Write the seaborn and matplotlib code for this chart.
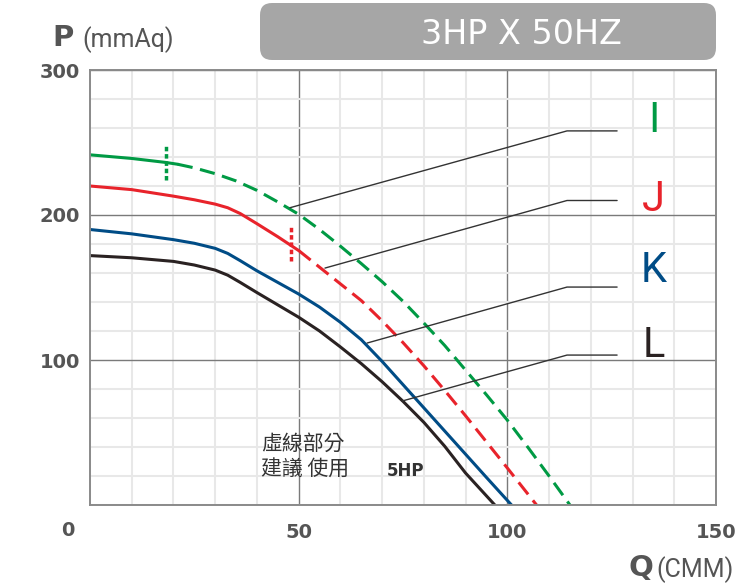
import matplotlib
matplotlib.use('Agg')
import matplotlib.pyplot as plt
import seaborn as sns
from matplotlib.patches import FancyBboxPatch
from matplotlib.transforms import IdentityTransform
from matplotlib.ticker import MultipleLocator

# Curve data: Q (CMM) vs P (mmAq)
# I (green) - solid part, then dashed part (5HP suggested)
i_solid_q = [0, 10, 18, 21]
i_solid_p = [241.5, 239, 236.3, 235]
i_dash_q = [21, 25, 30, 35, 40, 45, 50, 55, 60, 65, 70, 75, 80, 85, 90, 95, 100, 105, 110, 115]
i_dash_p = [235, 232.5, 228.5, 223.5, 217, 209, 200.5, 190, 178.5, 166.5, 154, 140.5, 125.5,
            110, 93, 76, 58.5, 39.5, 20, 0]

# J (red)
j_solid_q = [0, 10, 20, 25, 30, 33, 36, 40, 45, 50]
j_solid_p = [220, 217.5, 213, 210.5, 207.5, 205, 201, 194, 185, 175.5]
j_dash_q = [50, 55, 60, 65, 70, 75, 80, 85, 90, 95, 100, 107]
j_dash_p = [175.5, 164, 152.5, 141, 127, 112, 96, 79, 61.5, 43.5, 25.5, 0]

# K (blue)
k_q = [0, 10, 20, 25, 30, 33, 36, 40, 45, 50, 55, 60, 65, 70, 75, 80, 85, 90, 95, 101]
k_p = [190, 187, 183, 180.5, 177, 173.5, 168.5, 161.5, 153.5, 145.5, 136.5, 126, 114, 99,
       83, 67, 51, 35, 19, 0]

# L (black)
l_q = [0, 10, 20, 25, 30, 33, 36, 40, 45, 50, 55, 60, 65, 70, 75, 80, 85, 90, 97]
l_p = [172, 170.5, 168, 165.5, 162, 158.5, 153.5, 146.5, 138, 129.5, 120, 109, 97.5, 85,
       71.5, 57, 40.5, 22, 0]

# limit marks on I and J
mark_q = [18.2, 48.2]
mark_p = [(224, 248), (168, 192)]

# leader lines to the curve names
names = ['I', 'J', 'K', 'L']
lead_q = [[47.9, 114.3, 126.3], [56.3, 114.3, 126.3], [66.4, 114.3, 126.3], [74.8, 114.3, 126.3]]
lead_p = [[205, 258, 258], [163.4, 210, 210], [111.7, 150.3, 150.3], [71.7, 103.4, 103.4]]
name_q = 135
name_p = [265, 211, 162, 110]

x_ticks = [50, 100, 150]
y_ticks = [100, 200, 300]

green = '#009a44'
red = '#e8232b'
blue = '#004c86'
black = '#2a2222'
colors = [green, red, blue, black]
dash = (0, (5, 2.5))

sns.set_theme(style='white')
plt.rcParams['font.family'] = ['DejaVu Sans', 'Noto Sans CJK TC']

fig = plt.figure(figsize=(7.54, 5.86), dpi=100)
ax = fig.add_axes([90 / 754, 1 - 505 / 586, 626 / 754, 435 / 586])


def px(x, y):
    return x / 754, 1 - y / 586


# grid
ax.set_xlim(0, 150)
ax.set_ylim(0, 300)
ax.xaxis.set_minor_locator(MultipleLocator(10))
ax.yaxis.set_minor_locator(MultipleLocator(20))
ax.set_xticks(x_ticks)
ax.set_yticks(y_ticks)
ax.grid(which='minor', color='#e8e8e8', linewidth=1.5)
ax.grid(which='major', color='#7a7a7a', linewidth=1)
ax.set_axisbelow(True)
for s in ax.spines.values():
    s.set_color('#8a8a8a')
    s.set_linewidth(1.4)
ax.tick_params(which='both', length=0)
ax.tick_params(axis='x', pad=13, labelsize=14, labelcolor='#555555')
ax.tick_params(axis='y', pad=7, labelsize=14, labelcolor='#555555')
for lab in ax.get_xticklabels() + ax.get_yticklabels():
    lab.set_fontweight('bold')

# curves
sns.lineplot(x=i_solid_q, y=i_solid_p, ax=ax, color=green, linewidth=2.2)
sns.lineplot(x=i_dash_q, y=i_dash_p, ax=ax, color=green, linewidth=2.2, linestyle=dash)
sns.lineplot(x=j_solid_q, y=j_solid_p, ax=ax, color=red, linewidth=2.2)
sns.lineplot(x=j_dash_q, y=j_dash_p, ax=ax, color=red, linewidth=2.2, linestyle=dash)
sns.lineplot(x=k_q, y=k_p, ax=ax, color=blue, linewidth=2.2)
sns.lineplot(x=l_q, y=l_p, ax=ax, color=black, linewidth=2.2)

for q, (p0, p1), c in zip(mark_q, mark_p, [green, red]):
    ax.plot([q, q], [p0, p1], color=c, linewidth=2.5, linestyle=(0, (1.3, 0.8)))

for lq, lp, n, c, npos in zip(lead_q, lead_p, names, colors, name_p):
    ax.plot(lq, lp, color='#333333', linewidth=1)
    ax.text(name_q, npos, n, color=c, fontsize=30, ha='center', va='center',
            family=['Liberation Sans Narrow', 'Roboto', 'DejaVu Sans'])

ax.set_xlabel('')
ax.set_ylabel('')

# note about dashed part
ax.text(41, 42, '虛線部分', fontsize=15, color='#333333', ha='left', va='center',
        family=['Noto Sans CJK TC', 'DejaVu Sans'])
ax.text(41, 24, '建議 使用', fontsize=15, color='#333333', ha='left', va='center',
        family=['Noto Sans CJK TC', 'DejaVu Sans'])
ax.text(71, 23.5, '5HP', fontsize=12, color='#333333', ha='left', va='center', fontweight='bold')

# origin label
fig.text(*px(68, 531), '0', fontsize=14, color='#555555', fontweight='bold', ha='center', va='center')

# axis titles
fig.text(*px(52, 38), 'P', fontsize=21, fontweight='bold', color='#555555', ha='left', va='center')
fig.text(*px(82, 40), '(mmAq)', fontsize=18, color='#555555', ha='left', va='center',
         family=['Liberation Sans Narrow', 'Roboto', 'DejaVu Sans'])
fig.text(*px(628, 568), 'Q', fontsize=21, fontweight='bold', color='#555555', ha='left', va='center')
fig.text(*px(656, 570), '(CMM)', fontsize=18, color='#555555', ha='left', va='center',
         family=['Liberation Sans Narrow', 'Roboto', 'DejaVu Sans'])

# title box
box = FancyBboxPatch((260, 586 - 60), 456, 57, boxstyle='round,pad=0,rounding_size=12',
                     transform=IdentityTransform(), facecolor='#a6a6a6', edgecolor='none')
fig.patches.append(box)
fig.text(*px(521, 34), '3HP X 50HZ', fontsize=24, color='white', ha='center', va='center')

fig.savefig('out.png', dpi=100)
